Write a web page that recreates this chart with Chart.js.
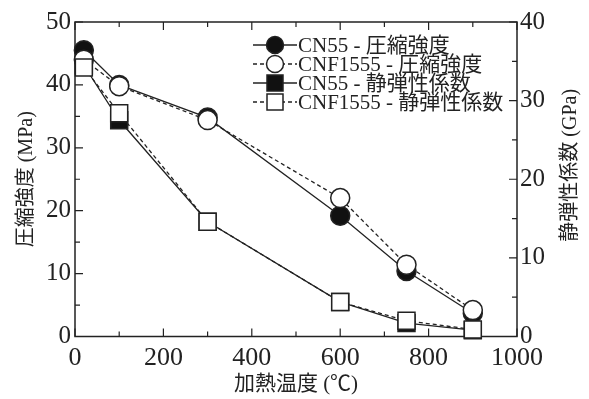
<!DOCTYPE html>
<html>
<head>
<meta charset="utf-8">
<script src="https://cdn.jsdelivr.net/npm/chart.js@4.4.1/dist/chart.umd.min.js"></script>
<style>
  html, body { margin: 0; padding: 0; background: #fff; }
  #wrap { width: 589px; height: 399px; }
</style>
</head>
<body>
<div id="wrap"><canvas id="grafica" width="589" height="399"></canvas></div>
<script>
// temperatures (°C) and measured values
var temps = [20, 100, 300, 600, 750, 900];
var cn55Strength = [45.5, 40.0, 34.8, 19.2, 10.4, 3.7];
var cnfStrength = [44.0, 39.8, 34.4, 22.0, 11.4, 4.2];
var cn55Modulus = [34.5, 27.5, 14.6, 4.4, 1.7, 0.8];
var cnfModulus = [34.2, 28.4, 14.6, 4.4, 2.0, 0.9];
var seriesNames = ['CN55 - 圧縮強度', 'CNF1555 - 圧縮強度', 'CN55 - 静弾性係数', 'CNF1555 - 静弾性係数'];
var xTicks = [0, 200, 400, 600, 800, 1000];
var leftTicks = [0, 10, 20, 30, 40, 50];
var rightTicks = [0, 10, 20, 30, 40];

var SERIF = "'Liberation Serif', 'Noto Sans CJK JP', serif";
var INK = '#222';

function puntos(ys) {
    return temps.map(function (t, i) { return { x: t, y: ys[i] }; });
}

//línies del marc i marques cap a dins
const marc = {
    id: 'marc',
    beforeDatasetsDraw(chart) {
        const { ctx, chartArea: a, scales } = chart;
        ctx.save();
        ctx.strokeStyle = INK;
        ctx.lineWidth = 1.5;
        ctx.strokeRect(a.left, a.top, a.right - a.left, a.bottom - a.top);
        ctx.lineWidth = 1.2;
        ctx.beginPath();
        for (let v = 0; v <= 1000; v += 100) {
            const px = scales.x.getPixelForValue(v);
            const len = v % 200 === 0 ? 8 : 5;
            ctx.moveTo(px, a.bottom); ctx.lineTo(px, a.bottom - len);
            ctx.moveTo(px, a.top); ctx.lineTo(px, a.top + len);
        }
        for (let v = 0; v <= 50; v += 5) {
            const py = scales.y.getPixelForValue(v);
            const len = v % 10 === 0 ? 8 : 5;
            ctx.moveTo(a.left, py); ctx.lineTo(a.left + len, py);
        }
        for (let v = 0; v <= 40; v += 5) {
            const py = scales.y2.getPixelForValue(v);
            const len = v % 10 === 0 ? 8 : 5;
            ctx.moveTo(a.right, py); ctx.lineTo(a.right - len, py);
        }
        ctx.stroke();
        ctx.restore();
    },
    afterDraw(chart) {
        const { ctx, chartArea: a } = chart;
        ctx.save();
        ctx.fillStyle = INK;
        // títol de l'eix dret (es llegeix de baix a dalt)
        ctx.font = '20px ' + SERIF;
        ctx.textAlign = 'center';
        ctx.textBaseline = 'middle';
        ctx.translate(571, (a.top + a.bottom) / 2 - 14);
        ctx.rotate(-Math.PI / 2);
        ctx.fillText('静弾性係数 (GPa)', 0, 0);
        ctx.restore();

        // llegenda
        ctx.save();
        const ds = chart.data.datasets;
        ctx.font = '21px ' + SERIF;
        ctx.textBaseline = 'middle';
        ctx.textAlign = 'left';
        for (let i = 0; i < ds.length; i++) {
            const y = a.top + 23 + i * 19;
            const x0 = 253, xm = 275, x1 = 297;
            ctx.strokeStyle = INK;
            ctx.lineWidth = 1.3;
            ctx.setLineDash(ds[i].borderDash || []);
            ctx.beginPath();
            ctx.moveTo(x0, y); ctx.lineTo(x1, y);
            ctx.stroke();
            ctx.setLineDash([]);
            ctx.fillStyle = ds[i].pointBackgroundColor;
            ctx.lineWidth = 1.5;
            ctx.beginPath();
            if (ds[i].pointStyle === 'rect') {
                ctx.rect(xm - 8, y - 8, 16, 16);
            } else {
                ctx.arc(xm, y, 8.5, 0, Math.PI * 2);
            }
            ctx.fill();
            ctx.stroke();
            ctx.fillStyle = INK;
            ctx.fillText(ds[i].label, x1 + 1, y + 1);
        }
        ctx.restore();
    }
};

function serie(label, ys, axis, filled, style, dashed, ordre) {
    return {
        label: label,
        data: puntos(ys),
        yAxisID: axis,
        borderColor: INK,
        borderWidth: 1.3,
        borderDash: dashed ? [4, 3] : [],
        pointStyle: style,
        pointRadius: style === 'rect' ? 12 : 9.5,
        pointBorderWidth: 1.5,
        pointBorderColor: INK,
        pointBackgroundColor: filled ? '#111' : '#fff',
        fill: false,
        tension: 0,
        clip: false,
        order: ordre
    };
}

function senseComes(v) { return String(v); }

const ctx = document.getElementById('grafica');
const grafica = new Chart(ctx, {
    type: 'line',
    data: {
        datasets: [
            serie(seriesNames[0], cn55Strength, 'y', true, 'circle', false, 4),
            serie(seriesNames[1], cnfStrength, 'y', false, 'circle', true, 2),
            serie(seriesNames[2], cn55Modulus, 'y2', true, 'rect', false, 3),
            serie(seriesNames[3], cnfModulus, 'y2', false, 'rect', true, 1)
        ]
    },
    plugins: [marc],
    options: {
        responsive: false,
        animation: false,
        events: [],
        layout: { padding: { top: 22, left: 0, right: 0, bottom: 0 } },
        plugins: {
            legend: { display: false },
            tooltip: { enabled: false }
        },
        scales: {
            x: {
                type: 'linear',
                min: 0, max: 1000,
                afterFit: function (s) { s.height = 62.5; },
                afterBuildTicks: function (s) { s.ticks = xTicks.map(function (v) { return { value: v }; }); },
                grid: { display: false, drawTicks: false },
                border: { display: false },
                ticks: { color: INK, padding: 6, maxRotation: 0, callback: senseComes, font: { family: SERIF, size: 26 } },
                title: {
                    display: true, text: '加熱温度 (℃)', color: INK,
                    font: { family: SERIF, size: 21 }, padding: { top: 0, bottom: 2 }
                }
            },
            y: {
                position: 'left',
                min: 0, max: 50,
                afterFit: function (s) { s.width = 75; },
                afterBuildTicks: function (s) { s.ticks = leftTicks.map(function (v) { return { value: v }; }); },
                grid: { display: false, drawTicks: false },
                border: { display: false },
                ticks: { color: INK, padding: 4, callback: senseComes, font: { family: SERIF, size: 25 } },
                title: {
                    display: true, text: '圧縮強度 (MPa)', color: INK,
                    font: { family: SERIF, size: 20 }, padding: { top: 15, bottom: 0 }
                }
            },
            y2: {
                position: 'right',
                min: 0, max: 40,
                afterFit: function (s) { s.width = 72; },
                afterBuildTicks: function (s) { s.ticks = rightTicks.map(function (v) { return { value: v }; }); },
                grid: { display: false, drawTicks: false },
                border: { display: false },
                ticks: { color: INK, padding: 3, callback: senseComes, font: { family: SERIF, size: 25 } }
            }
        }
    }
});
</script>
</body>
</html>
